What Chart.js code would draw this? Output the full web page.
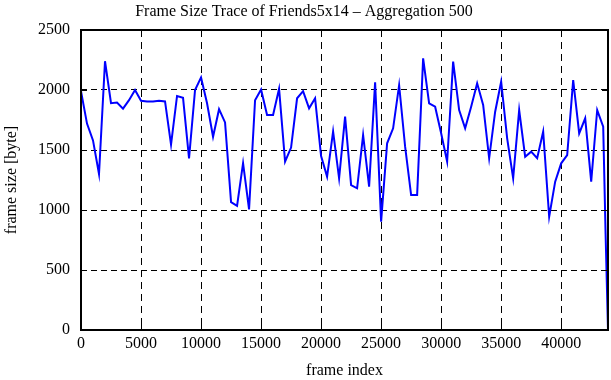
<!DOCTYPE html>
<html>
<head>
<meta charset="utf-8">
<script src="https://cdn.jsdelivr.net/npm/chart.js@4.4.0/dist/chart.umd.min.js"></script>
<style>
  html, body { margin: 0; padding: 0; background: #fff; }
  #wrap { width: 611px; height: 380px; }
</style>
</head>
<body>
<div id="wrap"><canvas id="trace" width="611" height="380"></canvas></div>
<script>
// ---- data (one point per 500 frames) ----
const frameIndex = [
  0, 500, 1000, 1500, 2000, 2500, 3000, 3500, 4000, 4500,
  5000, 5500, 6000, 6500, 7000, 7500, 8000, 8500, 9000, 9500,
  10000, 10500, 11000, 11500, 12000, 12500, 13000, 13500, 14000, 14500,
  15000, 15500, 16000, 16500, 17000, 17500, 18000, 18500, 19000, 19500,
  20000, 20500, 21000, 21500, 22000, 22500, 23000, 23500, 24000, 24500,
  25000, 25500, 26000, 26500, 27000, 27500, 28000, 28500, 29000, 29500,
  30000, 30500, 31000, 31500, 32000, 32500, 33000, 33500, 34000, 34500,
  35000, 35500, 36000, 36500, 37000, 37500, 38000, 38500, 39000, 39500,
  40000, 40500, 41000, 41500, 42000, 42500, 43000, 43500, 43700, 43900
];
const frameSize = [
  1990, 1720, 1580, 1300, 2240, 1890, 1895, 1845, 1915, 2000,
  1910, 1905, 1905, 1910, 1905, 1545, 1950, 1935, 1430, 2000,
  2105, 1890, 1610, 1840, 1730, 1065, 1035, 1390, 1005, 1915,
  2005, 1792, 1792, 2010, 1403, 1520, 1931, 1990, 1847, 1931,
  1450, 1278, 1655, 1264, 1778, 1208, 1181, 1625, 1194, 2064,
  903, 1556, 1681, 2040, 1528, 1125, 1125, 2264, 1889, 1861,
  1640, 1403, 2236, 1833, 1681, 1861, 2056, 1875, 1431, 1819,
  2069, 1597, 1264, 1833, 1444, 1486, 1431, 1653, 944, 1236,
  1389, 1458, 2083, 1639, 1764, 1236, 1833, 1694, 800, 0
];

const xMax = 43900;
const yTicks = [0, 500, 1000, 1500, 2000, 2500];
const xTicks = [0, 5000, 10000, 15000, 20000, 25000, 30000, 35000, 40000];

const serif = "'Liberation Serif', 'DejaVu Serif', serif";

// gnuplot style box with inward ticks on all four sides
const framePlugin = {
  id: "frame",
  afterDraw(chart) {
    const { ctx, chartArea: a, scales } = chart;
    ctx.save();
    ctx.strokeStyle = "#000";
    ctx.lineWidth = 1;
    ctx.beginPath();
    for (const v of xTicks) {
      const px = Math.round(scales.x.getPixelForValue(v)) + 0.5;
      ctx.moveTo(px, a.bottom); ctx.lineTo(px, a.bottom - 6);
      ctx.moveTo(px, a.top); ctx.lineTo(px, a.top + 6);
    }
    for (const v of yTicks) {
      const py = Math.round(scales.y.getPixelForValue(v)) + 0.5;
      ctx.moveTo(a.left, py); ctx.lineTo(a.left + 6, py);
      ctx.moveTo(a.right, py); ctx.lineTo(a.right - 6, py);
    }
    ctx.stroke();
    ctx.lineWidth = 2;
    ctx.strokeRect(a.left, a.top, a.right - a.left, a.bottom - a.top);
    ctx.restore();
  }
};

const points = frameIndex.map((f, i) => ({ x: f, y: frameSize[i] }));

new Chart(document.getElementById("trace"), {
  type: "line",
  data: {
    datasets: [{
      data: points,
      borderColor: "#0000ff",
      borderWidth: 2,
      pointRadius: 0,
      tension: 0,
      fill: false
    }]
  },
  options: {
    responsive: false,
    animation: false,
    devicePixelRatio: 1,
    layout: { padding: { left: 0, right: 3, top: 0, bottom: 0 } },
    plugins: {
      legend: { display: false },
      tooltip: { enabled: false },
      title: {
        display: true,
        text: "Frame Size Trace of Friends5x14 \u2013 Aggregation 500",
        color: "#000",
        font: { family: serif, size: 16, weight: "normal" },
        padding: { top: 2, bottom: 8.8 }
      }
    },
    scales: {
      x: {
        type: "linear",
        min: 0,
        max: xMax,
        afterFit: s => { s.height = 50; },
        afterBuildTicks: s => { s.ticks = xTicks.map(v => ({ value: v })); },
        ticks: {
          color: "#000", font: { family: serif, size: 16 }, padding: 4,
          maxRotation: 0, autoSkip: false, callback: v => String(v)
        },
        grid: { color: "#000", lineWidth: 1, drawTicks: false },
        border: { display: false, dash: [7, 5] },
        title: {
          display: true,
          text: "frame index",
          color: "#000",
          font: { family: serif, size: 16 },
          padding: { top: 0, bottom: 0 }
        }
      },
      y: {
        min: 0,
        max: 2500,
        afterFit: s => { s.width = 81; },
        afterBuildTicks: s => { s.ticks = yTicks.map(v => ({ value: v })); },
        ticks: { color: "#000", font: { family: serif, size: 16 }, padding: 11, callback: v => String(v) },
        grid: { color: "#000", lineWidth: 1, drawTicks: false },
        border: { display: false, dash: [6, 4] },
        title: {
          display: true,
          text: "frame size [byte]",
          color: "#000",
          font: { family: serif, size: 16 },
          padding: { top: 2, bottom: 0 }
        }
      }
    }
  },
  plugins: [framePlugin]
});
</script>
</body>
</html>
